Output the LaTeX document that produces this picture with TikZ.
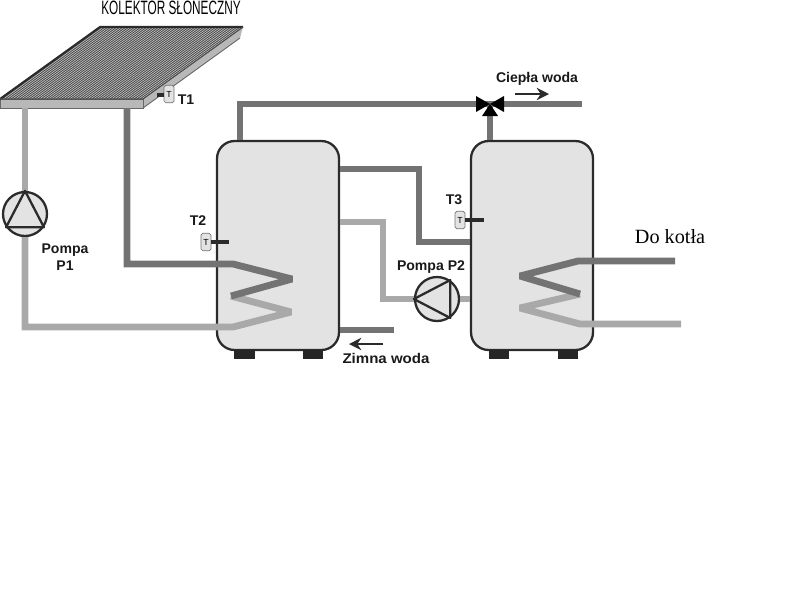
\documentclass[tikz,border=0pt]{standalone}
\usepackage{xcolor}
\usepackage{fontspec}
\setmainfont{Liberation Sans}
\newfontfamily\serifname{Liberation Serif}
\usepackage{tikz}
\usetikzlibrary{arrows.meta, positioning, calc}
\definecolor{hotpipe}{HTML}{737373}
\definecolor{coldpipe}{HTML}{A9A9A9}
\definecolor{tankfill}{HTML}{E3E3E3}
\definecolor{outline}{HTML}{2B2B2B}
\definecolor{panelside}{HTML}{B8B8B8}
\tikzset{
  tank/.style={
    rectangle, rounded corners=10pt,
    minimum width=2.44cm, minimum height=4.18cm,
    draw=outline, line width=1.3pt, fill=tankfill,
  },
  foot/.style={
    rectangle, fill=black!85, inner sep=0pt,
    minimum width=0.41cm, minimum height=0.19cm,
  },
  pump/.style={
    circle, draw=outline, line width=1.3pt, fill=tankfill,
    minimum size=0.88cm, inner sep=0pt,
  },
  sensor/.style={
    rectangle, rounded corners=1pt, draw=black!55, fill=tankfill,
    minimum width=0.2cm, minimum height=0.35cm, inner sep=0pt,
    font=\fontsize{5}{6}\selectfont,
  },
  hot/.style={draw=hotpipe, line width=3.9pt, line join=miter, miter limit=2},
  cold/.style={draw=coldpipe, line width=3.9pt, line join=miter, miter limit=2},
  stub/.style={draw=outline, line width=1.8pt},
  arrow/.style={-{Stealth[length=7pt,width=7pt]}, line width=1.2pt, color=outline},
  label/.style={font=\fontsize{8}{9.5}\selectfont\bfseries, text=black!90, inner sep=0pt, align=center},
}

\begin{document}
\begin{tikzpicture}[x=0.02cm, y=-0.02cm]
  \useasboundingbox (0,0) rectangle (800,600);

  % collector
  \fill[panelside] (143,99) -- (243,27) -- (240,38) -- (143,108) -- cycle;
  \draw[black!60, line width=0.5pt] (143,108) -- (240,38);
  \fill[panelside, draw=black!60, line width=0.5pt] (0,99) rectangle (143,108);
  \begin{scope}
    \clip (0,99) -- (100,27) -- (243,27) -- (143,99) -- cycle;
    \fill[black!20] (0,27) rectangle (243,99);
    \foreach \i in {-40,-37,...,180} {
      \draw[black!70, line width=0.5pt] (\i,99) -- (\i+100,27);
    }
  \end{scope}
  \draw[outline, line width=1.2pt] (0,99) -- (100,27) -- (243,27);
  \draw[black!70, line width=0.6pt] (0,99) -- (143,99) -- (243,27);
  \node[font=\fontsize{11}{12}\selectfont, xscale=0.61, inner sep=0pt] (title) at (171,8) {KOLEKTOR SŁONECZNY};

  % tanks
  \node[tank] (tankA) at (278,245.5) {};
  \node[tank] (tankB) at (532,245.5) {};
  \node[foot] (footA) at (244.5,354.5) {};
  \node[foot] (footB) at (313,354.5) {};
  \node[foot] (footC) at (499,354.5) {};
  \node[foot] (footD) at (568,354.5) {};

  % pumps
  \node[pump] (pumpA) at (25,214) {};
  \node[pump] (pumpB) at (437,299) {};

  \coordinate (valve) at (490,104);
  \coordinate (panelL) at (25,108);
  \coordinate (panelR) at (127,108);
  \coordinate (hotEnd) at (582,104);
  \coordinate (coldEnd) at (394,330);
  \coordinate (boilerA) at (675,261);
  \coordinate (boilerB) at (681,324);

  % pipes
  \draw[cold] (panelL) -- (pumpA.north);
  \draw[cold] (pumpA.south) |- (233,327) -- (291,312) -- (231,296);
  \draw[hot] (panelR) |- (233,264) -- (292,279) -- (231,296);
  \draw[hot] (tankA.north -| 240,0) |- (valve);
  \draw[hot] (valve) -- (hotEnd);
  \draw[hot] (tankB.north -| valve) -- (valve);
  \draw[hot] (tankA.east |- 0,169) -| (419,242) -- (tankB.west |- 0,242);
  \draw[cold] (tankA.east |- 0,222) -| (383,299) -- (pumpB.west);
  \draw[cold] (pumpB.east) -- (tankB.west |- pumpB);
  \draw[hot] (tankA.east |- coldEnd) -- (coldEnd);
  \draw[cold] (boilerB) -- (580,324) -- (520,308) -- (580,294);
  \draw[hot] (boilerA) -- (578,261) -- (520,276) -- (580,294);

  % pump triangles
  \draw[outline, line width=1.3pt, line join=round] (pumpA.90) -- (pumpA.215) -- (pumpA.325) -- cycle;
  \draw[outline, line width=1.3pt, line join=round] (pumpB.180) -- (pumpB.55) -- (pumpB.305) -- cycle;

  % valve
  \fill[black, shift={(valve)}] (-14,-8) -- (14,8) -- (14,-8) -- (-14,8) -- cycle;
  \fill[black, shift={(valve)}] (0,0) -- (8,12) -- (-8,12) -- cycle;

  % sensors
  \node[sensor] (sensorA) at (169,94) {T};
  \node[sensor] (sensorB) at (206,242) {T};
  \node[sensor] (sensorC) at (460,220) {T};
  \coordinate (probeA) at (157,95);
  \coordinate (probeB) at (229,242);
  \coordinate (probeC) at (484,220);
  \draw[stub] (sensorA.west |- probeA) -- (probeA);
  \draw[stub] (sensorB.east) -- (probeB);
  \draw[stub] (sensorC.east) -- (probeC);

  % labels
  \node[label] (labelA) at (186,100) {T1};
  \node[label] (labelB) at (198,221) {T2};
  \node[label] (labelC) at (454,200) {T3};
  \node[label] (labelD) at (65,257) {Pompa\\P1};
  \node[label] (labelE) at (431,267) {Pompa P2};
  \node[label] (labelF) at (537,79) {Ciepła woda};
  \node[label, xscale=1.07] (labelG) at (386,358) {Zimna woda};
  \node[font=\fontsize{11.5}{13}\selectfont\serifname, inner sep=0pt] (labelH) at (670,237) {Do kotła};

  \coordinate (arrowA) at (515,94);
  \coordinate (arrowB) at (549,94);
  \coordinate (arrowC) at (383,344);
  \coordinate (arrowD) at (349,344);
  \draw[arrow] (arrowA) -- (arrowB);
  \draw[arrow] (arrowC) -- (arrowD);

\end{tikzpicture}
\end{document}
